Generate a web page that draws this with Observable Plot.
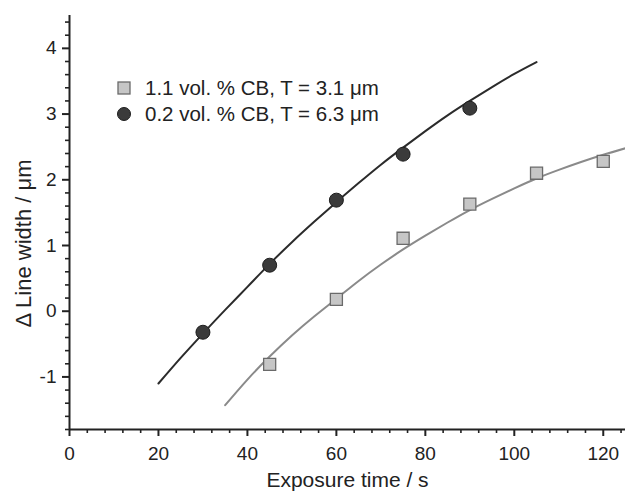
<!DOCTYPE html>
<html>
<head>
<meta charset="utf-8">
<script src="https://cdn.jsdelivr.net/npm/d3@7"></script>
<script src="https://cdn.jsdelivr.net/npm/@observablehq/plot@0.6"></script>
<style>
  html, body { margin: 0; padding: 0; background: #fff; }
  #wrap { position: relative; width: 625px; height: 492px; font-family: "Liberation Sans", Arial, sans-serif; }
  #legend { position: absolute; left: 117px; top: 75px; font-size: 20.5px; color: #222; line-height: 26px; }
  #legend .row { display: flex; align-items: center; white-space: nowrap; }
  #legend svg { margin-right: 14px; }
</style>
</head>
<body>
<div id="wrap">
  <div id="chart"></div>
  <div id="legend"></div>
</div>
<script>
// ---- data ----
const seriesNames = ["1.1 vol. % CB, T = 3.1 \u03bcm", "0.2 vol. % CB, T = 6.3 \u03bcm"];

// measured points
const squareX = [45, 60, 75, 90, 105, 120];
const squareY = [-0.81, 0.18, 1.11, 1.63, 2.10, 2.28];
const circleX = [30, 45, 60, 75, 90];
const circleY = [-0.32, 0.70, 1.69, 2.39, 3.09];

// fitted curves
const grayCurveX = [35, 40, 45, 50, 55, 60, 65, 70, 75, 80, 85, 90, 95, 100, 105, 110, 115, 120, 125];
const grayCurveY = [-1.43, -1.04, -0.69, -0.37, -0.08, 0.19, 0.46, 0.71, 0.94, 1.15, 1.35, 1.54, 1.71, 1.87, 2.02, 2.15, 2.27, 2.38, 2.48];
const darkCurveX = [20, 25, 30, 35, 40, 45, 50, 55, 60, 65, 70, 75, 80, 85, 90, 95, 100, 105];
const darkCurveY = [-1.10, -0.71, -0.34, 0.02, 0.37, 0.72, 1.05, 1.36, 1.66, 1.95, 2.23, 2.49, 2.74, 2.98, 3.20, 3.41, 3.61, 3.79];

// axes
const xDomain = [0, 125];
const yDomain = [-1.8, 4.5];
const xTicks = [0, 20, 40, 60, 80, 100, 120];
const xMinorTicks = [4, 8, 12, 16, 24, 28, 32, 36, 44, 48, 52, 56, 64, 68, 72, 76, 84, 88, 92, 96, 104, 108, 112, 116, 124];
const yTicks = [-1, 0, 1, 2, 3, 4];
const yMinorTicks = [-1.8, -1.6, -1.4, -1.2, -0.8, -0.6, -0.4, -0.2, 0.2, 0.4, 0.6, 0.8, 1.2, 1.4, 1.6, 1.8, 2.2, 2.4, 2.6, 2.8, 3.2, 3.4, 3.6, 3.8, 4.2, 4.4];
const xLabel = "Exposure time / s";
const yLabel = "\u0394 Line width / \u03bcm";

// ---- build tables ----
const squares = squareX.map((x, i) => ({x, y: squareY[i]}));
const circles = circleX.map((x, i) => ({x, y: circleY[i]}));
const grayCurve = grayCurveX.map((x, i) => ({x, y: grayCurveY[i]}));
const darkCurve = darkCurveX.map((x, i) => ({x, y: darkCurveY[i]}));

const axisColor = "#222";
const darkFill = "#3b3b3b", darkStroke = "#1e1e1e", darkLine = "#2b2b2b";
const grayFill = "#c6c6c6", grayStroke = "#6a6a6a", grayLine = "#8a8a8a";
const fmt = d => String(d);

const chart = Plot.plot({
  width: 625,
  height: 492,
  marginLeft: 69,
  marginRight: 0,
  marginTop: 15,
  marginBottom: 63,
  style: { fontFamily: "'Liberation Sans', Arial, sans-serif", background: "#fff", color: axisColor },
  x: { domain: xDomain, label: null },
  y: { domain: yDomain, label: null },
  marks: [
    Plot.axisX({ ticks: xMinorTicks, tickSize: 4, text: null, label: null, strokeWidth: 1.6, stroke: axisColor }),
    Plot.axisX({ ticks: xTicks, tickSize: 7, tickPadding: 10, tickFormat: fmt, fontSize: 19, label: null, strokeWidth: 2, stroke: axisColor, fill: axisColor }),
    Plot.axisY({ ticks: yMinorTicks, tickSize: 4, text: null, label: null, strokeWidth: 1.6, stroke: axisColor }),
    Plot.axisY({ ticks: yTicks, tickSize: 7, tickPadding: 6, tickFormat: fmt, fontSize: 19, label: null, strokeWidth: 2, stroke: axisColor, fill: axisColor }),
    Plot.ruleY([yDomain[0]], { stroke: axisColor, strokeWidth: 2 }),
    Plot.ruleX([xDomain[0]], { stroke: axisColor, strokeWidth: 2 }),
    Plot.line(grayCurve, { x: "x", y: "y", stroke: grayLine, strokeWidth: 2, curve: "natural" }),
    Plot.line(darkCurve, { x: "x", y: "y", stroke: darkLine, strokeWidth: 2, curve: "natural" }),
    Plot.dot(squares, { x: "x", y: "y", symbol: "square", r: 6.8, fill: grayFill, stroke: grayStroke, strokeWidth: 1.3 }),
    Plot.dot(circles, { x: "x", y: "y", symbol: "circle", r: 7, fill: darkFill, stroke: darkStroke, strokeWidth: 1 }),
    Plot.text([xLabel], { frameAnchor: "bottom", dy: 51, fontSize: 21, fill: axisColor, lineAnchor: "middle", textAnchor: "middle" }),
    Plot.text([yLabel], { frameAnchor: "left", rotate: -90, dx: -46, dy: 21, fontSize: 22, fill: axisColor, lineAnchor: "middle", textAnchor: "middle" })
  ]
});
document.getElementById("chart").appendChild(chart);

// legend
const legend = document.getElementById("legend");
const symbols = [
  `<svg width="14" height="14"><rect x="1" y="1" width="12" height="12" fill="${grayFill}" stroke="${grayStroke}" stroke-width="1.3"/></svg>`,
  `<svg width="14" height="14"><circle cx="7" cy="7" r="6.5" fill="${darkFill}" stroke="${darkStroke}" stroke-width="1"/></svg>`
];
seriesNames.forEach((name, i) => {
  const row = document.createElement("div");
  row.className = "row";
  row.innerHTML = symbols[i] + `<span>${name}</span>`;
  legend.appendChild(row);
});
</script>
</body>
</html>
